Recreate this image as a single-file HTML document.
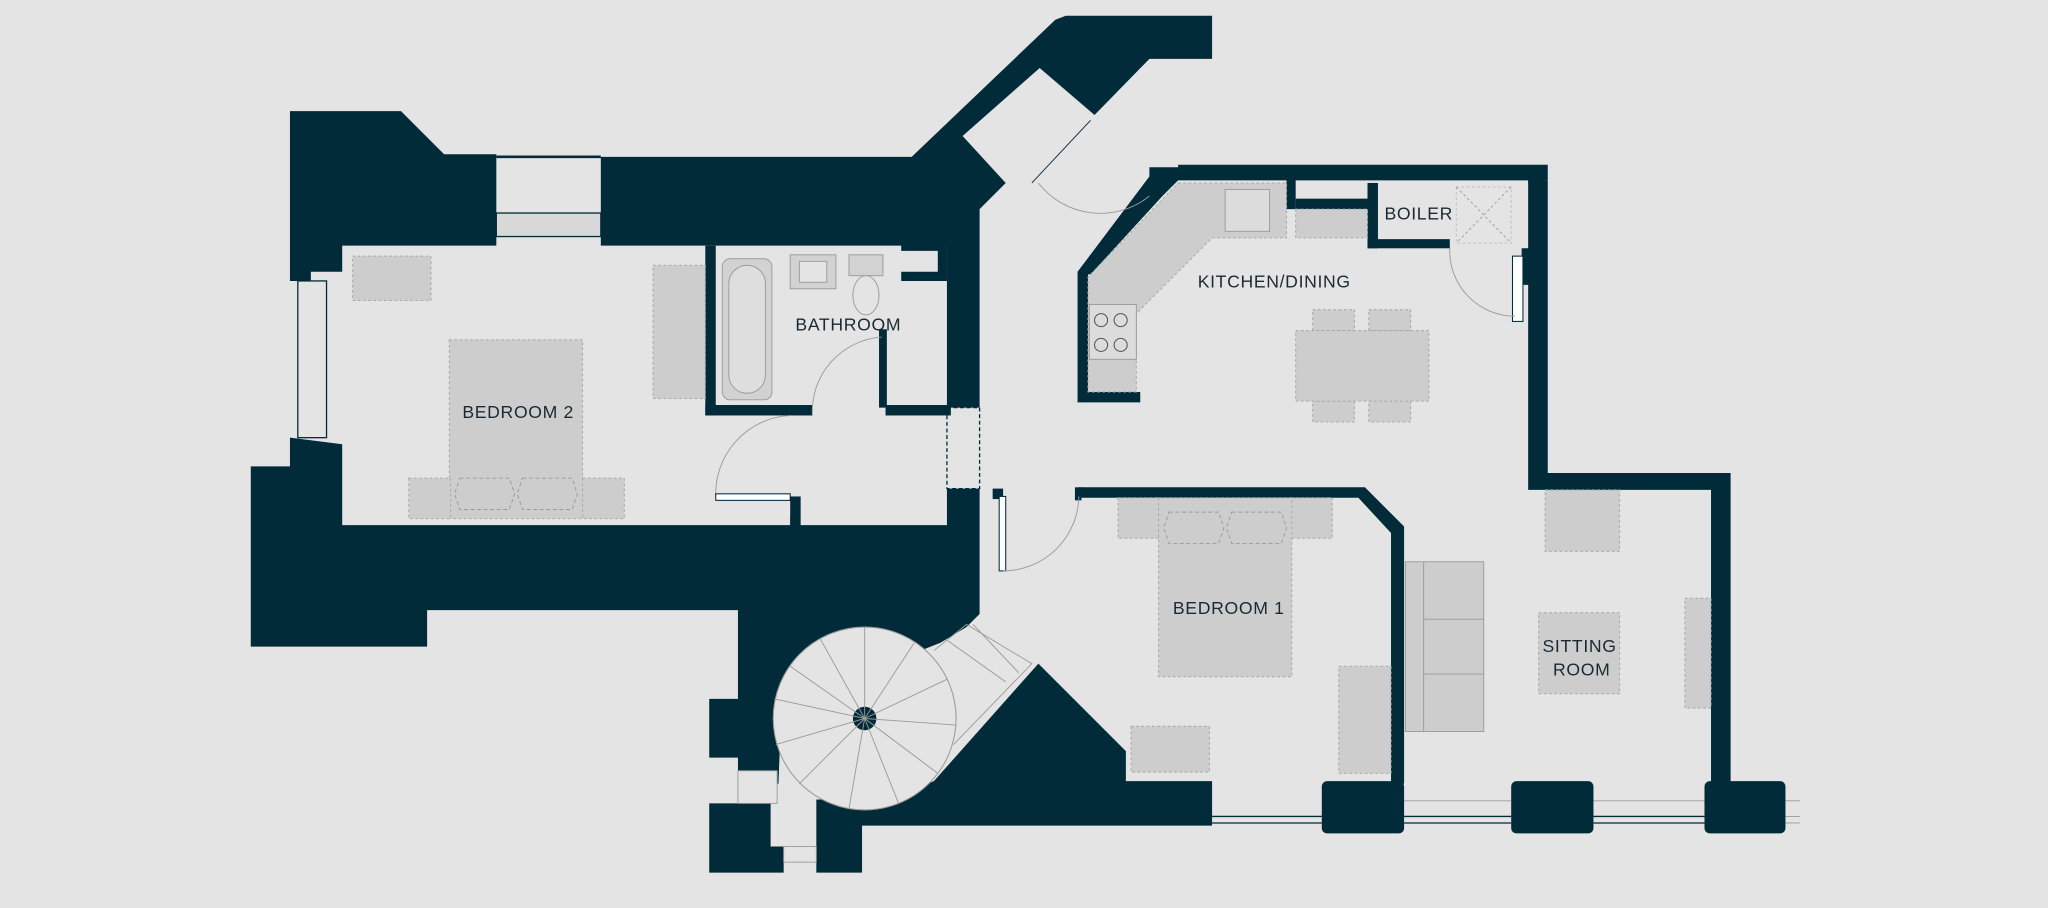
<!DOCTYPE html>
<html><head><meta charset="utf-8"><style>
html,body{margin:0;padding:0;background:#e4e4e4;}
svg{display:block}
text{font-family:"Liberation Sans",sans-serif;font-size:13.5px;fill:#1a2a33;letter-spacing:0.5px}
.f{fill:#cdcdcd;stroke:#a9a9a9;stroke-width:0.8;stroke-dasharray:2 2}
.w{fill:#022b3a}
.l{fill:none;stroke:#022b3a;stroke-width:1}
.t{fill:none;stroke:#9a9a9a;stroke-width:0.7}
</style></head><body>
<svg width="2048" height="908" viewBox="0 0 1568 695" xmlns="http://www.w3.org/2000/svg">
<rect width="1568" height="695" fill="#e4e4e4"/>
<!-- top-left block -->
<polygon class="w" points="222,85 307,85 340,118 380,118 380,188 262,188 262,208 238,208 238,215 222,215"/>
<!-- window bedroom2 top -->
<rect x="380" y="163" width="80" height="18" fill="#d8d8d8" stroke="#022b3a" stroke-width="1"/>
<line x1="380" y1="120" x2="460" y2="120" stroke="#022b3a" stroke-width="2"/>
<!-- left window -->
<rect x="228" y="215" width="22" height="120" fill="#e4e4e4" stroke="#022b3a" stroke-width="1"/>
<!-- top middle wall + diagonal -->
<polygon class="w" points="460,120 698,120 808,15 816,12 928,12 928,45 880,45 838,88 796,52 737,104 770,140 750,160 750,312 725,312 725,188 460,188"/>
<!-- bathroom walls -->
<rect class="w" x="540" y="188" width="8" height="130"/>
<rect class="w" x="540" y="310" width="82" height="8"/>
<rect class="w" x="678" y="310" width="50" height="8"/>
<polygon class="w" points="690,186 725,186 725,215 690,215 690,208 718,208 718,192 690,192"/>
<rect class="w" x="673" y="252" width="6" height="60"/>
<!-- doorway dashed -->
<rect x="725" y="312" width="25" height="62" fill="none" stroke="#022b3a" stroke-width="1" stroke-dasharray="3 2"/>
<!-- lower-left big block -->
<polygon class="w" points="192,357 222,357 222,335 262,340 262,402 605,402 605,395 612,395 612,402 725,402 725,374 750,374 750,470 740,480 720,492 700,500 680,500 650,500 620,520 598,548 596,600 565,600 565,580 543,580 543,535 565,535 565,467 327,467 327,495 192,495"/>
<rect class="w" x="605" y="380" width="8" height="22"/>
<!-- stair lower blocks -->
<polygon class="w" points="543,615 590,615 590,648 600,648 600,668 543,668"/>
<polygon class="w" points="625,612 660,612 680,612 715,598 795,508 862,575 862,598 928,598 928,632 660,632 660,668 625,668"/>
<rect x="565" y="590" width="30" height="25" fill="#e4e4e4" stroke="#9a9a9a" stroke-width="0.7"/>
<rect x="600" y="648" width="25" height="12" fill="#e4e4e4" stroke="#9a9a9a" stroke-width="0.7"/>
<!-- spiral stair -->
<circle cx="662" cy="550" r="70" fill="#e4e4e4" stroke="#9a9a9a" stroke-width="0.8"/>
<circle cx="662" cy="550" r="9" class="w"/>
<g class="t">
<line x1="662" y1="550" x2="662" y2="480"/><line x1="662" y1="550" x2="700" y2="492"/>
<line x1="662" y1="550" x2="725" y2="520"/><line x1="662" y1="550" x2="732" y2="555"/>
<line x1="662" y1="550" x2="718" y2="592"/><line x1="662" y1="550" x2="688" y2="615"/>
<line x1="662" y1="550" x2="650" y2="619"/><line x1="662" y1="550" x2="612" y2="600"/>
<line x1="662" y1="550" x2="594" y2="570"/><line x1="662" y1="550" x2="593" y2="535"/>
<line x1="662" y1="550" x2="605" y2="510"/><line x1="662" y1="550" x2="628" y2="489"/>
<polyline points="715,498 740,478 790,508 730,570"/>
<line x1="725" y1="490" x2="770" y2="522"/><line x1="745" y1="478" x2="780" y2="515"/>
</g>
<!-- kitchen walls -->
<polygon class="w" points="880,128 902,128 902,126 1185,126 1185,138 1182,138 1182,140 1170,140 1170,138 992,138 992,160 985,160 985,138 902,138 890,150 835,210 833,210 833,300 873,300 873,308 825,308 825,208 880,135"/>
<rect class="w" x="1047" y="140" width="8" height="50"/>
<rect class="w" x="1047" y="183" width="63" height="7"/>
<rect class="w" x="992" y="152" width="55" height="8"/>
<polygon class="w" points="1170,138 1185,138 1185,362 1325,362 1325,600 1310,600 1310,375 1170,375 1170,218 1165,218 1165,190 1170,190"/>
<rect x="1158" y="196" width="8" height="50" fill="#fff" stroke="#022b3a" stroke-width="0.8"/>
<!-- bedroom1 walls -->
<polygon class="w" points="826,373 1045,373 1075,403 1075,600 1065,600 1065,408 1040,381 826,381"/>
<rect class="w" x="823" y="373" width="5" height="10"/>
<rect class="w" x="760" y="374" width="8" height="8"/>
<rect x="765" y="380" width="5" height="57" fill="#fff" stroke="#022b3a" stroke-width="0.8"/>
<!-- bottom window blocks -->
<rect class="w" x="1012" y="598" width="63" height="40" rx="4"/>
<rect class="w" x="1157" y="598" width="63" height="40" rx="4"/>
<rect class="w" x="1305" y="598" width="62" height="40" rx="4"/>
<g stroke="#022b3a" stroke-width="1">
<line x1="928" y1="625" x2="1012" y2="625"/><line x1="928" y1="630" x2="1012" y2="630"/>
<line x1="1075" y1="625" x2="1157" y2="625"/><line x1="1075" y1="630" x2="1157" y2="630"/>
<line x1="1220" y1="625" x2="1305" y2="625"/><line x1="1220" y1="630" x2="1305" y2="630"/>
</g>
<g stroke="#9a9a9a" stroke-width="0.7">
<line x1="1075" y1="613" x2="1157" y2="613"/><line x1="1220" y1="613" x2="1305" y2="613"/>
<line x1="1367" y1="613" x2="1378" y2="613"/><line x1="1367" y1="625" x2="1378" y2="625"/><line x1="1367" y1="630" x2="1378" y2="630"/>
</g>
<!-- door swings -->
<g class="t">
<path d="M795,140 A60,60 0 0 0 880,150"/><line x1="790" y1="140" x2="835" y2="92" stroke="#022b3a"/>
<path d="M622,318 A57,57 0 0 1 675,258"/>
<path d="M548,380 A60,60 0 0 1 605,318"/>
<path d="M768,437 A58,58 0 0 0 826,380"/>
<path d="M1110,190 A50,50 0 0 0 1160,242"/>
</g>
<rect x="548" y="378" width="57" height="5" fill="#fff" stroke="#022b3a" stroke-width="0.8"/>
<!-- bedroom 2 furniture -->
<rect class="f" x="270" y="196" width="60" height="34"/>
<rect class="f" x="500" y="203" width="40" height="102"/>
<rect class="f" x="344" y="260" width="102" height="137"/>
<rect class="f" x="313" y="366" width="32" height="31"/>
<rect class="f" x="446" y="366" width="32" height="31"/>
<path class="t" stroke-dasharray="3 2" d="M352,366 h38 l4,12 l-4,12 h-38 l-4,-12z M400,366 h38 l4,12 l-4,12 h-38 l-4,-12z"/>
<!-- bathroom -->
<rect x="553" y="198" width="38" height="108" rx="6" fill="#d2d2d2" stroke="#999" stroke-width="0.7"/>
<rect x="558" y="203" width="28" height="98" rx="14" fill="#dedede" stroke="#999" stroke-width="0.7"/>
<rect x="605" y="195" width="35" height="26" fill="#d2d2d2" stroke="#999" stroke-width="0.7"/>
<rect x="612" y="200" width="21" height="16" fill="#e4e4e4" stroke="#999" stroke-width="0.7"/>
<rect x="650" y="195" width="26" height="16" fill="#d2d2d2" stroke="#999" stroke-width="0.7"/>
<ellipse cx="663" cy="226" rx="10" ry="15" fill="#e4e4e4" stroke="#999" stroke-width="0.7"/>
<!-- kitchen counters -->
<polygon class="f" points="902,140 985,140 985,182 928,182 870,240 870,300 833,300 833,212"/>
<rect class="f" x="992" y="160" width="55" height="22"/>
<rect x="938" y="145" width="34" height="32" fill="#dcdcdc" stroke="#999" stroke-width="0.7"/>
<rect x="834" y="233" width="36" height="42" fill="#dcdcdc" stroke="#999" stroke-width="0.7"/>
<g fill="none" stroke="#555" stroke-width="0.8"><circle cx="843" cy="245" r="5"/><circle cx="858" cy="245" r="5"/><circle cx="843" cy="264" r="5"/><circle cx="858" cy="264" r="5"/></g>
<!-- boiler cupboard -->
<rect x="1115" y="143" width="42" height="43" fill="none" stroke="#bbb" stroke-width="0.7" stroke-dasharray="2 2"/>
<path class="t" stroke-dasharray="2 2" d="M1115,143 L1157,186 M1157,143 L1115,186"/>
<!-- dining -->
<rect class="f" x="1005" y="237" width="32" height="16"/><rect class="f" x="1048" y="237" width="32" height="16"/>
<rect class="f" x="1005" y="307" width="32" height="16"/><rect class="f" x="1048" y="307" width="32" height="16"/>
<rect class="f" x="992" y="253" width="102" height="54"/>
<!-- bedroom1 furniture -->
<rect class="f" x="856" y="381" width="32" height="31"/><rect class="f" x="988" y="381" width="32" height="31"/>
<rect class="f" x="887" y="381" width="102" height="137"/>
<path class="t" stroke-dasharray="3 2" d="M895,392 h38 l4,12 l-4,12 h-38 l-4,-12z M943,392 h38 l4,12 l-4,12 h-38 l-4,-12z"/>
<rect class="f" x="866" y="556" width="60" height="35"/>
<rect class="f" x="1025" y="510" width="40" height="82"/>
<!-- sitting room -->
<rect class="f" x="1183" y="375" width="57" height="47"/>
<rect x="1076" y="430" width="60" height="130" fill="#cdcdcd" stroke="#999" stroke-width="0.7"/>
<g class="t"><line x1="1090" y1="430" x2="1090" y2="560"/><line x1="1090" y1="474" x2="1136" y2="474"/><line x1="1090" y1="516" x2="1136" y2="516"/></g>
<rect class="f" x="1178" y="469" width="62" height="62"/>
<rect class="f" x="1290" y="458" width="20" height="84"/>
<!-- labels -->
<text x="354" y="320">BEDROOM 2</text>
<text x="609" y="253">BATHROOM</text>
<text x="917" y="220">KITCHEN/DINING</text>
<text x="1060" y="168">BOILER</text>
<text x="898" y="470">BEDROOM 1</text>
<text x="1181" y="499">SITTING</text>
<text x="1189" y="517">ROOM</text>
</svg>
</body></html>
